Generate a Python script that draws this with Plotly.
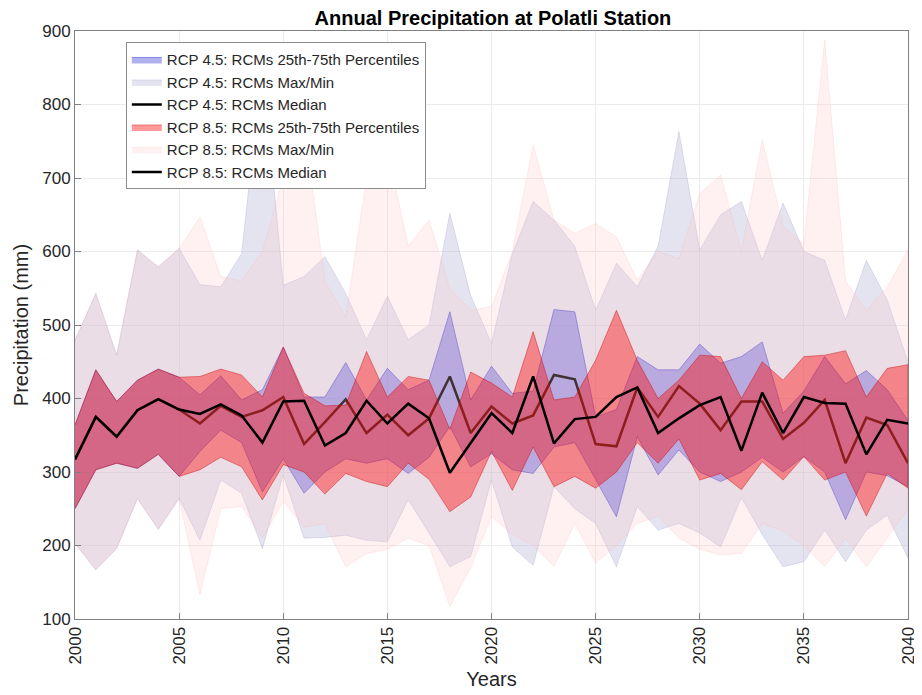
import plotly.graph_objects as go

years = list(range(2000, 2041))

# RCP 4.5
q75_45 = [364, 439, 396, 425, 440, 429, 405, 431, 398, 412,
          470, 402, 402, 449, 398, 441, 412, 425, 518, 398,
          444, 407, 410, 521, 518, 375, 385, 457, 439, 439,
          474, 448, 457, 477, 380, 410, 457, 420, 438, 412, 370]
q25_45 = [250, 303, 312, 305, 324, 294, 328, 357, 340, 273,
          318, 271, 300, 318, 312, 318, 298, 320, 362, 307,
          325, 303, 298, 334, 340, 290, 239, 348, 296, 330,
          300, 287, 300, 320, 300, 321, 300, 235, 300, 295, 280]
max_45 = [479, 543, 459, 602, 579, 604, 555, 552, 597, 855,
          554, 566, 593, 543, 480, 539, 480, 500, 652, 540,
          475, 597, 668, 643, 607, 520, 584, 552, 607, 763,
          602, 650, 668, 588, 666, 600, 588, 507, 588, 534, 450]
min_45 = [203, 167, 196, 264, 222, 264, 207, 289, 271, 196,
          296, 210, 211, 214, 207, 205, 262, 217, 171, 185,
          289, 198, 173, 280, 250, 230, 171, 253, 221, 230,
          217, 198, 265, 215, 171, 178, 221, 178, 221, 241, 183]
med_45 = [317, 375, 348, 384, 399, 385, 366, 390, 375, 384,
          402, 338, 368, 399, 353, 378, 350, 373, 430, 353,
          389, 366, 377, 432, 426, 338, 335, 415, 375, 417,
          393, 357, 396, 396, 345, 367, 398, 312, 374, 364, 312]

# RCP 8.5
q75_85 = [364, 439, 396, 425, 440, 429, 430, 440, 432, 402,
          470, 407, 390, 391, 464, 402, 430, 425, 358, 436,
          421, 402, 491, 398, 402, 452, 520, 452, 400, 425,
          459, 457, 400, 450, 425, 457, 459, 465, 402, 441, 446]
q25_85 = [250, 303, 312, 305, 324, 294, 303, 320, 307, 262,
          310, 300, 270, 298, 287, 280, 312, 290, 246, 266,
          328, 275, 334, 280, 294, 278, 300, 340, 312, 345,
          289, 298, 276, 314, 289, 321, 289, 300, 240, 298, 278]
max_85 = [479, 543, 459, 602, 579, 604, 647, 566, 560, 600,
          700, 770, 560, 510, 700, 740, 607, 643, 550, 520,
          525, 600, 745, 643, 625, 638, 620, 561, 600, 590,
          679, 704, 600, 752, 634, 610, 888, 560, 520, 552, 602]
min_85 = [203, 167, 196, 264, 222, 264, 133, 250, 253, 210,
          260, 225, 230, 171, 189, 195, 210, 200, 117, 170,
          239, 215, 200, 171, 230, 176, 200, 230, 240, 210,
          195, 187, 189, 230, 220, 200, 171, 210, 171, 210, 250]
med_85 = [317, 375, 348, 384, 399, 385, 379, 392, 377, 340,
          396, 397, 336, 353, 397, 366, 393, 373, 299, 340,
          380, 353, 430, 339, 372, 375, 402, 415, 353, 373,
          391, 402, 329, 408, 353, 402, 394, 393, 324, 371, 366]

y_ticks = [100, 200, 300, 400, 500, 600, 700, 800, 900]
x_ticks = [2000, 2005, 2010, 2015, 2020, 2025, 2030, 2035, 2040]

FONT = "Liberation Sans, Arial, sans-serif"


def band(upper, lower, name, fill, edge, rank):
    return go.Scatter(
        x=years + years[::-1], y=upper + lower[::-1], fill="toself",
        fillcolor=fill, line=dict(color=edge, width=0.8), mode="lines",
        name=name, legendrank=rank, hoverinfo="skip")


fig = go.Figure()
fig.add_trace(band(max_45, min_45, "RCP 4.5: RCMs Max/Min",
                   "rgba(190,190,222,0.42)", "rgba(150,150,200,0.35)", 2))
fig.add_trace(band(q75_45, q25_45, "RCP 4.5: RCMs 25th-75th Percentiles",
                   "rgba(80,80,220,0.45)", "rgba(40,40,200,0.6)", 1))
fig.add_trace(go.Scatter(x=years, y=med_45, mode="lines", name="RCP 4.5: RCMs Median",
                         line=dict(color="black", width=2.5), legendrank=3))
fig.add_trace(band(max_85, min_85, "RCP 8.5: RCMs Max/Min",
                   "rgba(255,200,200,0.25)", "rgba(255,180,180,0.3)", 5))
fig.add_trace(band(q75_85, q25_85, "RCP 8.5: RCMs 25th-75th Percentiles",
                   "rgba(255,0,0,0.4)", "rgba(200,0,0,0.5)", 4))
fig.add_trace(go.Scatter(x=years, y=med_85, mode="lines", name="RCP 8.5: RCMs Median",
                         line=dict(color="black", width=2.5), legendrank=6))

tick_font = dict(family=FONT, size=17, color="#262626")
title_font = dict(family=FONT, size=20, color="#262626")

fig.update_layout(
    width=922, height=695,
    margin=dict(l=62, r=21, t=23, b=84),
    paper_bgcolor="white", plot_bgcolor="white",
    title=dict(text="<b>Annual Precipitation at Polatli Station</b>", x=0.526, xanchor="center",
               y=0.985, yanchor="middle",
               font=dict(family=FONT, size=20, color="black")),
    legend=dict(x=0.061, y=0.981, xanchor="left", yanchor="top",
                bgcolor="white", bordercolor="#8c8c8c", borderwidth=1,
                font=dict(family=FONT, size=15, color="#262626"),
                tracegroupgap=0, itemwidth=30),
    showlegend=True,
)
fig.update_xaxes(range=[2000, 2040], tickvals=x_ticks, ticktext=[str(t) for t in x_ticks],
                 tickangle=-90, tickfont=tick_font,
                 title=dict(text="Years", font=title_font, standoff=8),
                 showgrid=True, gridcolor="#ebebeb", gridwidth=1,
                 showline=True, linecolor="#808080", linewidth=1, mirror=True,
                 ticks="inside", ticklen=6, tickcolor="#808080", zeroline=False)
fig.update_yaxes(range=[100, 900], tickvals=y_ticks, tickfont=tick_font,
                 title=dict(text="Precipitation (mm)", font=title_font, standoff=8),
                 showgrid=True, gridcolor="#ebebeb", gridwidth=1,
                 showline=True, linecolor="#808080", linewidth=1, mirror=True,
                 ticks="inside", ticklen=6, tickcolor="#808080", zeroline=False)

fig.write_html("out.html")
